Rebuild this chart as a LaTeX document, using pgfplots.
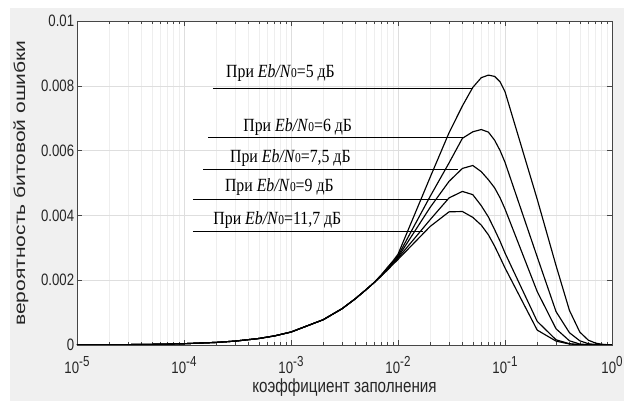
\documentclass[border=0pt]{standalone}
\usepackage{pgfplots}
\pgfplotsset{compat=1.18}
\usepackage{fontspec}
\setmainfont{Liberation Serif}
\newfontfamily\arialfont{Liberation Sans}
\definecolor{figgray}{RGB}{240,240,240}
\definecolor{majgrid}{RGB}{222,222,222}
\definecolor{mingrid}{RGB}{238,238,238}
\definecolor{axcol}{RGB}{70,70,70}
\newcommand{\lab}[1]{При \textit{Eb/N}{\fontsize{13.5}{13.5}\selectfont 0}=#1 дБ}
\newcommand{\tl}[1]{10\raisebox{0.42em}{\fontsize{14.5}{14.5}\selectfont #1}}
\pgfplotsset{curve/.style={black, no markers, line width=1.15pt, line join=round}}
\begin{document}
\begin{tikzpicture}[x=1pt,y=1pt]
\path[use as bounding box] (0,0) rectangle (624,401);
\fill[white] (0,0) rectangle (624,401);
\fill[figgray] (10,0) rectangle (624,393);
\begin{axis}[
  at={(77pt,56pt)}, anchor=south west,
  scale only axis, width=535pt, height=324pt,
  xmode=log, xmin=1e-5, xmax=1, ymin=0, ymax=0.01,
  axis background/.style={fill=white},
  xtick={1e-5,1e-4,1e-3,1e-2,1e-1,1},
  xticklabels={\tl{-5},\tl{-4},\tl{-3},\tl{-2},\tl{-1},\tl{0}},
  minor xtick={2e-5,3e-5,4e-5,5e-5,6e-5,7e-5,8e-5,9e-5,2e-4,3e-4,4e-4,5e-4,6e-4,7e-4,8e-4,9e-4,2e-3,3e-3,4e-3,5e-3,6e-3,7e-3,8e-3,9e-3,2e-2,3e-2,4e-2,5e-2,6e-2,7e-2,8e-2,9e-2,2e-1,3e-1,4e-1,5e-1,6e-1,7e-1,8e-1,9e-1},
  ytick={0,0.002,0.004,0.006,0.008,0.01},
  yticklabels={0,0.002,0.004,0.006,0.008,0.01},
  scaled y ticks=false,
  xtick pos=both, ytick pos=both,
  tick align=inside,
  major tick length=5pt, minor tick length=3pt,
  tick style={axcol, line width=0.5pt},
  axis line style={axcol, line width=0.6pt},
  xmajorgrids, xminorgrids, ymajorgrids,
  major grid style={majgrid, line width=0.5pt},
  minor grid style={mingrid, line width=0.5pt},
  ticklabel style={font=\arialfont\fontsize{16.5}{16.5}\selectfont, text=black!85, xscale=0.8},
  xticklabel style={yshift=-8pt},
  xlabel={коэффициент заполнения},
  ylabel={вероятность битовой ошибки},
  label style={text=black!85},
  xlabel style={font=\arialfont\fontsize{19}{19}\selectfont, at={(axis description cs:0.5,-0.13)}, anchor=center, xscale=0.8},
  ylabel style={font=\arialfont\fontsize{21}{21}\selectfont, at={(axis description cs:-0.105,0.5)}, anchor=center, yscale=0.75},
]
% Eb/N0 = 5 dB
\addplot[curve] coordinates {(1e-5,0.000004) (2e-5,0.000008) (3e-5,0.000012) (5e-5,0.00002) (7e-5,0.000028) (1e-4,0.00004) (2e-4,0.00008) (3e-4,0.00012) (5e-4,0.0002) (7e-4,0.00028) (1e-3,0.0004) (2e-3,0.00078) (3e-3,0.00112) (4e-3,0.00143) (5e-3,0.0017) (6e-3,0.00193)
 (7e-3,0.00217) (8e-3,0.0024) (9e-3,0.0026) (1e-2,0.0028) (2e-2,0.00518) (3e-2,0.00655) (4e-2,0.00738) (5e-2,0.00795) (6e-2,0.00825) (7e-2,0.00833) (8e-2,0.00829) (9e-2,0.00812) (1e-1,0.00782) (2e-1,0.0045) (3e-1,0.00245) (4e-1,0.00107) (5e-1,0.0004) (6e-1,0.00015) (7e-1,0.00006) (8e-1,0.000025) (9e-1,0.00001) (1,0)};
% 6 dB
\addplot[curve] coordinates {(1e-5,0.000004) (2e-5,0.000008) (3e-5,0.000012) (5e-5,0.00002) (7e-5,0.000028) (1e-4,0.00004) (2e-4,0.00008) (3e-4,0.00012) (5e-4,0.0002) (7e-4,0.00028) (1e-3,0.0004) (2e-3,0.00078) (3e-3,0.00112) (4e-3,0.00143) (5e-3,0.0017) (6e-3,0.00193)
 (7e-3,0.00216) (8e-3,0.00238) (9e-3,0.00257) (1e-2,0.00275) (2e-2,0.00459) (3e-2,0.00562) (4e-2,0.00638) (5e-2,0.00658) (6e-2,0.00665) (7e-2,0.00657) (8e-2,0.00632) (9e-2,0.006) (1e-1,0.00564) (2e-1,0.00272) (3e-1,0.00103) (4e-1,0.00038) (5e-1,0.00013) (6e-1,0.00004) (7e-1,0.000015) (8e-1,0.000005) (9e-1,0) (1,0)};
% 7.5 dB
\addplot[curve] coordinates {(1e-5,0.000004) (2e-5,0.000008) (3e-5,0.000012) (5e-5,0.00002) (7e-5,0.000028) (1e-4,0.00004) (2e-4,0.00008) (3e-4,0.00012) (5e-4,0.0002) (7e-4,0.00028) (1e-3,0.0004) (2e-3,0.00078) (3e-3,0.00112) (4e-3,0.00143) (5e-3,0.0017) (6e-3,0.00193)
 (7e-3,0.00215) (8e-3,0.00236) (9e-3,0.00254) (1e-2,0.00271) (2e-2,0.00425) (3e-2,0.00505) (4e-2,0.00545) (5e-2,0.00554) (6e-2,0.00535) (7e-2,0.0051) (8e-2,0.00485) (9e-2,0.00454) (1e-1,0.0042) (2e-1,0.00165) (3e-1,0.0005) (4e-1,0.00013) (5e-1,0.00003) (6e-1,0.00001) (7e-1,0) (1,0)};
% 9 dB
\addplot[curve] coordinates {(1e-5,0.000004) (2e-5,0.000008) (3e-5,0.000012) (5e-5,0.00002) (7e-5,0.000028) (1e-4,0.00004) (2e-4,0.00008) (3e-4,0.00012) (5e-4,0.0002) (7e-4,0.00028) (1e-3,0.0004) (2e-3,0.00078) (3e-3,0.00112) (4e-3,0.00143) (5e-3,0.0017) (6e-3,0.00193)
 (7e-3,0.00214) (8e-3,0.00234) (9e-3,0.00252) (1e-2,0.00268) (2e-2,0.00387) (3e-2,0.00454) (4e-2,0.00474) (5e-2,0.00464) (6e-2,0.0043) (7e-2,0.00395) (8e-2,0.00356) (9e-2,0.0032) (1e-1,0.00284) (2e-1,0.00073) (3e-1,0.00016) (4e-1,0.00004) (5e-1,0.00001) (6e-1,0) (1,0)};
% 11.7 dB
\addplot[curve] coordinates {(1e-5,0.000004) (2e-5,0.000008) (3e-5,0.000012) (5e-5,0.00002) (7e-5,0.000028) (1e-4,0.00004) (2e-4,0.00008) (3e-4,0.00012) (5e-4,0.0002) (7e-4,0.00028) (1e-3,0.0004) (2e-3,0.00078) (3e-3,0.00112) (4e-3,0.00143) (5e-3,0.0017) (6e-3,0.00193)
 (7e-3,0.00213) (8e-3,0.00232) (9e-3,0.00249) (1e-2,0.00264) (2e-2,0.00366) (3e-2,0.00411) (4e-2,0.00412) (5e-2,0.00394) (6e-2,0.0037) (7e-2,0.0034) (8e-2,0.00305) (9e-2,0.0027) (1e-1,0.00238) (2e-1,0.00046) (3e-1,0.00012) (4e-1,0.00003) (5e-1,0.00001) (6e-1,0) (1,0)};
% annotation leader lines
\draw[black, line width=0.9pt] (axis cs:1.86e-4,0.00792) -- (axis cs:5.0e-2,0.00792);
\draw[black, line width=0.9pt] (axis cs:1.68e-4,0.00642) -- (axis cs:4.08e-2,0.00642);
\draw[black, line width=0.9pt] (axis cs:1.51e-4,0.00541) -- (axis cs:3.66e-2,0.00541);
\draw[black, line width=0.9pt] (axis cs:1.21e-4,0.0045) -- (axis cs:2.85e-2,0.0045);
\draw[black, line width=0.9pt] (axis cs:1.21e-4,0.00349) -- (axis cs:1.72e-2,0.00349);
% annotation texts
\begin{scope}[every node/.style={anchor=base west, inner sep=0pt, font=\fontsize{18.6}{18.6}\selectfont, xscale=0.85}]
\node at (axis cs:2.47e-4,0.00826) {\lab{5}};
\node at (axis cs:3.58e-4,0.0066) {\lab{6}};
\node at (axis cs:2.69e-4,0.00563) {\lab{7,5}};
\node at (axis cs:2.41e-4,0.00475) {\lab{9}};
\node at (axis cs:1.88e-4,0.00372) {\lab{11,7}};
\end{scope}
\end{axis}
\end{tikzpicture}
\end{document}
